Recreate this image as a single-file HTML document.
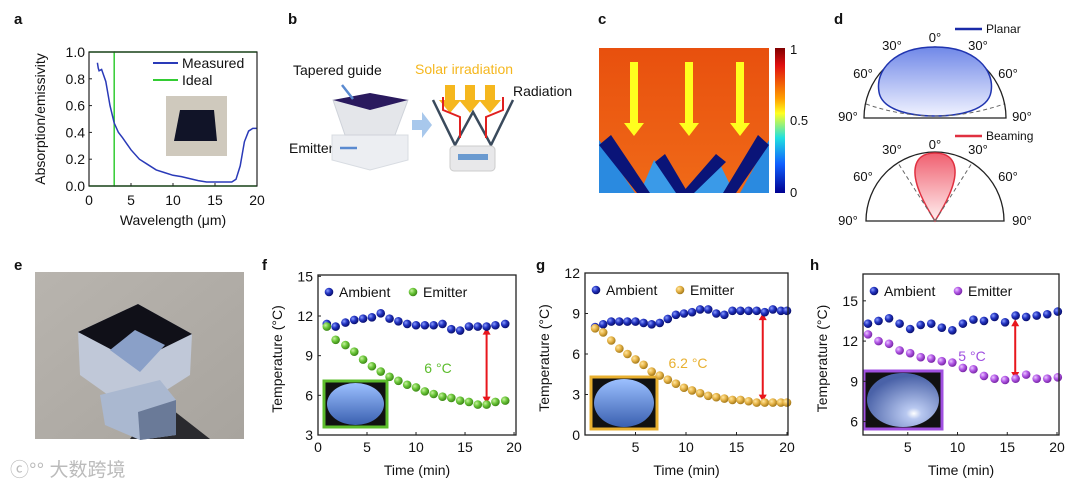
<!DOCTYPE html>
<html><head><meta charset="utf-8"><style>
html,body{margin:0;padding:0;background:#fff;}
svg{display:block;font-family:"Liberation Sans","Noto Sans CJK SC",sans-serif;}
</style></head><body>
<svg id="fig" width="1080" height="487" viewBox="0 0 1080 487" xmlns="http://www.w3.org/2000/svg">
<defs>
<radialGradient id="gb" cx="35%" cy="35%" r="65%"><stop offset="0" stop-color="#8a9cff"/><stop offset="0.5" stop-color="#2233c0"/><stop offset="1" stop-color="#0a1070"/></radialGradient>
<radialGradient id="gg" cx="35%" cy="35%" r="65%"><stop offset="0" stop-color="#c8f0a0"/><stop offset="0.5" stop-color="#6cc83a"/><stop offset="1" stop-color="#3e8a18"/></radialGradient>
<radialGradient id="go" cx="35%" cy="35%" r="65%"><stop offset="0" stop-color="#ffe6a0"/><stop offset="0.5" stop-color="#e8b64a"/><stop offset="1" stop-color="#a87c1c"/></radialGradient>
<radialGradient id="gp" cx="35%" cy="35%" r="65%"><stop offset="0" stop-color="#eac8ff"/><stop offset="0.5" stop-color="#b45ae8"/><stop offset="1" stop-color="#7a28a8"/></radialGradient>
<linearGradient id="heat" x1="0" y1="0" x2="0" y2="1"><stop offset="0" stop-color="#e8500e"/><stop offset="1" stop-color="#f06a18"/></linearGradient>
<linearGradient id="cbar" x1="0" y1="0" x2="0" y2="1"><stop offset="0" stop-color="#800000"/><stop offset="0.12" stop-color="#e01010"/><stop offset="0.35" stop-color="#ffa000"/><stop offset="0.45" stop-color="#ffff20"/><stop offset="0.62" stop-color="#20e0e0"/><stop offset="0.8" stop-color="#1060ff"/><stop offset="1" stop-color="#000090"/></linearGradient>
<linearGradient id="planarF" x1="0" y1="0" x2="0" y2="1"><stop offset="0" stop-color="#7088e8"/><stop offset="1" stop-color="#f0f2ff"/></linearGradient>
<linearGradient id="beamF" x1="0" y1="0" x2="0" y2="1"><stop offset="0" stop-color="#f06070"/><stop offset="1" stop-color="#fff0f0"/></linearGradient>
<linearGradient id="sky1" x1="0" y1="0" x2="0" y2="1"><stop offset="0" stop-color="#9cc0ff"/><stop offset="1" stop-color="#3a60b0"/></linearGradient>
<radialGradient id="sky3" cx="65%" cy="75%" r="70%"><stop offset="0" stop-color="#ffffff"/><stop offset="0.15" stop-color="#b8c8f0"/><stop offset="1" stop-color="#4a62a8"/></radialGradient>
<linearGradient id="asph" x1="0" y1="0" x2="1" y2="1"><stop offset="0" stop-color="#b8b4ae"/><stop offset="1" stop-color="#a8a49e"/></linearGradient>
</defs>

<g font-weight="bold" font-size="15" fill="#111">
<text x="14" y="24">a</text>
<text x="288" y="24">b</text>
<text x="598" y="24">c</text>
<text x="834" y="24">d</text>
<text x="14" y="270">e</text>
<text x="262" y="270">f</text>
<text x="536" y="270">g</text>
<text x="810" y="270">h</text>
</g>

<g id="panelA"></g>

<g>
<text x="293" y="75" font-size="14" fill="#111">Tapered guide</text>
<text x="289" y="153" font-size="14" fill="#111">Emitter</text>
<text x="415" y="74" font-size="14" fill="#f5b71e">Solar irradiation</text>
<text x="513" y="96" font-size="14" fill="#111">Radiation</text>
<polygon points="332,135 408,135 408,160 370,170 332,160" fill="#eceef2" stroke="#d8dce2"/>
<polygon points="333,100 408,100 395,135 345,135" fill="#e4e6ea" stroke="#cfd3da"/>
<polygon points="333,100 370,93 408,100 370,110" fill="#2a1a5e"/>
<line x1="342" y1="85" x2="353" y2="99" stroke="#5a8ad0" stroke-width="2.5"/>
<line x1="340" y1="148" x2="357" y2="148" stroke="#5a8ad0" stroke-width="2.5"/>
<polygon points="412,120 422,120 422,112 432,125 422,138 422,130 412,130" fill="#a8c8ec"/>
<g fill="#f5b71e"><polygon points="445,85 455,85 455,100 461,100 450,113 439,100 445,100"/><polygon points="465,85 475,85 475,100 481,100 470,113 459,100 465,100"/><polygon points="485,85 495,85 495,100 501,100 490,113 479,100 485,100"/></g>
<g stroke="#3a4a5c" stroke-width="2.5" fill="none"><polyline points="433,100 455,145 473,112 491,145 513,100"/></g>
<g stroke="#e02020" stroke-width="2" fill="none"><polyline points="443,97 443,110 460,117 460,138"/><polyline points="503,97 503,110 486,117 486,138"/></g>
<rect x="450" y="146" width="45" height="25" rx="4" fill="#e8e8ea" stroke="#ccc"/>
<rect x="458" y="154" width="30" height="6" fill="#6a9ad0"/>
</g>

<g>
<rect x="599" y="48" width="170" height="145" fill="url(#heat)"/>
<polygon points="599,185 599,140 635,193 599,193" fill="#2a8ae0"/>
<polygon points="640,193 654,160 684,193" fill="#3a9ae8"/>
<polygon points="690,193 718,160 734,193" fill="#3a9ae8"/>
<polygon points="769,140 769,193 740,193" fill="#2a8ae0"/>
<polygon points="599,145 611,135 650,193 637,193" fill="#0a1478"/>
<polygon points="655,162 665,154 688,193 676,193" fill="#0a1478"/>
<polygon points="716,154 726,162 694,193 682,193" fill="#0a1478"/>
<polygon points="758,135 769,145 736,193 723,193" fill="#0a1478"/>
<g fill="#ffff1e"><polygon points="630,62 638,62 638,123 644,123 634,136 624,123 630,123"/><polygon points="685,62 693,62 693,123 699,123 689,136 679,123 685,123"/><polygon points="736,62 744,62 744,123 750,123 740,136 730,123 736,123"/></g>
<rect x="775" y="48" width="10" height="145" fill="url(#cbar)"/>
<g font-size="13" fill="#111"><text x="790" y="54">1</text><text x="790" y="125">0.5</text><text x="790" y="197">0</text></g>
</g>

<g>
<path d="M864,118 A71,71 0 0 1 1006,118 Z" fill="none" stroke="#222" stroke-width="1.3"/>
<path d="M935,47 C975,47 995,70 991,92 C988,110 960,116 935,116 C910,116 882,110 879,92 C875,70 895,47 935,47 Z" fill="url(#planarF)" stroke="#2035b0" stroke-width="1.5"/>
<path d="M866,104 Q935,128 1004,104" fill="none" stroke="#666" stroke-dasharray="4,3"/>
<path d="M866,221 A69,69 0 0 1 1004,221 Z" fill="none" stroke="#222" stroke-width="1.3"/>
<path d="M935,221 C925,205 914,185 915,170 C916,157 925,153 935,153 C945,153 954,157 955,170 C956,185 945,205 935,221 Z" fill="url(#beamF)" stroke="#e03040" stroke-width="1.5"/>
<path d="M935,221 L898,163 M935,221 L972,163" stroke="#666" stroke-dasharray="4,3"/>
<line x1="955" y1="29" x2="982" y2="29" stroke="#1a2aa8" stroke-width="2.5"/>
<line x1="955" y1="136" x2="982" y2="136" stroke="#e03040" stroke-width="2.5"/>
<g font-size="12" fill="#111"><text x="986" y="33">Planar</text><text x="986" y="140">Beaming</text></g>
<g font-size="13" fill="#111" text-anchor="middle">
<text x="935" y="42">0°</text><text x="892" y="50">30°</text><text x="978" y="50">30°</text><text x="863" y="78">60°</text><text x="1008" y="78">60°</text><text x="848" y="121">90°</text><text x="1022" y="121">90°</text>
<text x="935" y="149">0°</text><text x="892" y="154">30°</text><text x="978" y="154">30°</text><text x="863" y="181">60°</text><text x="1008" y="181">60°</text><text x="848" y="225">90°</text><text x="1022" y="225">90°</text>
</g>
</g>

<g>
<rect x="35" y="272" width="209" height="167" fill="url(#asph)"/>
<polygon points="130,439 160,400 210,439" fill="#2a2a2e"/>
<polygon points="78,332 138,304 192,334 190,375 132,412 80,375" fill="#c0c8d8"/>
<polygon points="78,332 138,304 192,334 135,362" fill="#101018"/>
<polygon points="110,350 135,330 165,345 140,372" fill="#8aa0c8"/>
<polygon points="100,395 160,380 176,400 176,435 140,440 105,425" fill="#aab8d0"/>
<polygon points="138,412 176,400 176,435 140,440" fill="#6a7a98"/>
<text x="10" y="476" font-size="19" fill="#bbb">ⓒ°° 大数跨境</text>
</g>

<g id="panelF"></g>
<g id="panelG"></g>
<g id="panelH"></g>
</svg>
<script>
const NS='http://www.w3.org/2000/svg';
const aWavelength=[1,1.1,1.2,1.5,2,2.5,3,3.5,4,5,6,7,8,9,10,11,12,13,14,15,16,17,17.5,18,18.5,19,19.5,20];
const aMeasured=[0.92,0.88,0.86,0.87,0.78,0.6,0.47,0.4,0.36,0.27,0.2,0.16,0.12,0.1,0.08,0.07,0.055,0.04,0.03,0.03,0.03,0.03,0.05,0.15,0.33,0.41,0.43,0.43];
const aXTicks=[0,5,10,15,20];
const aYTicks=[0,0.2,0.4,0.6,0.8,1.0];
const aIdealEdge=3;
const fTime=[0.9,1.8,2.8,3.7,4.6,5.5,6.4,7.3,8.2,9.1,10,10.9,11.8,12.7,13.6,14.5,15.4,16.3,17.2,18.1,19.1];
const fAmbient=[11.4,11.2,11.5,11.7,11.8,11.9,12.2,11.8,11.6,11.4,11.3,11.3,11.3,11.4,11.0,10.9,11.2,11.2,11.2,11.3,11.4];
const fEmitter=[11.2,10.2,9.8,9.3,8.7,8.2,7.8,7.4,7.1,6.8,6.6,6.3,6.1,5.9,5.8,5.6,5.5,5.3,5.3,5.5,5.6];
const fYTicks=[3,6,9,12,15];
const fXTicks=[0,5,10,15,20];
const gTime=[1,1.8,2.6,3.4,4.2,5,5.8,6.6,7.4,8.2,9,9.8,10.6,11.4,12.2,13,13.8,14.6,15.4,16.2,17,17.8,18.6,19.4,20];
const gAmbient=[8.0,8.2,8.4,8.4,8.4,8.4,8.3,8.2,8.3,8.6,8.9,9.0,9.1,9.3,9.3,9.0,8.9,9.2,9.2,9.2,9.2,9.1,9.3,9.2,9.2];
const gEmitter=[7.9,7.6,7.0,6.4,6.0,5.6,5.2,4.7,4.4,4.1,3.8,3.5,3.3,3.1,2.9,2.8,2.7,2.6,2.6,2.5,2.4,2.4,2.4,2.4,2.4];
const gYTicks=[0,3,6,9,12];
const gXTicks=[5,10,15,20];
const hTime=[1,2.06,3.12,4.18,5.24,6.3,7.36,8.42,9.48,10.54,11.6,12.66,13.72,14.78,15.84,16.9,17.96,19.02,20.08];
const hAmbient=[13.3,13.5,13.7,13.3,12.9,13.2,13.3,13.0,12.8,13.3,13.6,13.5,13.8,13.4,13.9,13.8,13.9,14.0,14.2];
const hEmitter=[12.5,12.0,11.8,11.3,11.1,10.8,10.7,10.5,10.4,10.0,9.9,9.4,9.2,9.1,9.2,9.5,9.2,9.2,9.3];
const hYTicks=[6,9,12,15];
const hXTicks=[5,10,15,20];

function el(parent,tag,attrs,text){const e=document.createElementNS(NS,tag);for(const k in attrs)e.setAttribute(k,attrs[k]);if(text!==undefined)e.textContent=text;parent.appendChild(e);return e;}
function scale(d0,d1,r0,r1){return v=>r0+(v-d0)/(d1-d0)*(r1-r0);}

(function(){
 const g=document.getElementById('panelA');
 const L=89,R=257,T=52,B=186;
 const x=scale(0,20,L,R),y=scale(0,1,B,T);
 const ideal=el(g,'polyline',{points:`${L},${y(0)} ${x(aIdealEdge)},${y(0)} ${x(aIdealEdge)},${y(1)} ${L},${y(1)}`,fill:'none',stroke:'#33cc33','stroke-width':1.5});
 
 
 el(g,'line',{x1:x(aIdealEdge),y1:y(0),x2:R,y2:y(0),stroke:'#33cc33','stroke-width':1.5});
 el(g,'line',{x1:x(aIdealEdge),y1:y(1),x2:R,y2:y(1),stroke:'#33cc33','stroke-width':1.5});
 const m=el(g,'polyline',{points:aWavelength.map((w,i)=>x(w)+','+y(aMeasured[i])).join(' '),fill:'none',stroke:'#2a3ab8','stroke-width':1.5});
 
 
 el(g,'rect',{x:L,y:T,width:R-L,height:B-T,fill:'none',stroke:'#222','stroke-width':1.2});
 aXTicks.forEach(t=>{el(g,'line',{x1:x(t),y1:B,x2:x(t),y2:B-3,stroke:'#222'});el(g,'text',{x:x(t),y:B+19,'font-size':14,'text-anchor':'middle',fill:'#111'},String(t));});
 aYTicks.forEach(t=>{el(g,'line',{x1:L,y1:y(t),x2:L+3,y2:y(t),stroke:'#222'});el(g,'text',{x:L-4,y:y(t)+5,'font-size':14,'text-anchor':'end',fill:'#111'},t.toFixed(1));});
 el(g,'text',{x:173,y:225,'font-size':14,'text-anchor':'middle',fill:'#111'},'Wavelength (μm)');
 el(g,'text',{x:0,y:0,'font-size':14,'text-anchor':'middle',fill:'#111',transform:`translate(45,${(T+B)/2}) rotate(-90)`},'Absorption/emissivity');
 el(g,'line',{x1:153,y1:63,x2:178,y2:63,stroke:'#2a3ab8','stroke-width':2});
 el(g,'text',{x:182,y:68,'font-size':14,fill:'#111'},'Measured');
 el(g,'line',{x1:153,y1:80,x2:178,y2:80,stroke:'#33cc33','stroke-width':2});
 el(g,'text',{x:182,y:85,'font-size':14,fill:'#111'},'Ideal');
 el(g,'rect',{x:166,y:96,width:61,height:60,fill:'#cfc9bd'});
 el(g,'polygon',{points:'180,110 214,110 217,141 174,141',fill:'#111428'});
})();

function tempChart(id,o){
 const g=document.getElementById(id);
 const x=scale(o.x0,o.x1,o.L,o.R),y=scale(o.y0,o.y1,o.B,o.T);
 el(g,'rect',{x:o.inset[0],y:o.inset[1],width:o.inset[2],height:o.inset[3],fill:'#111',stroke:o.col,'stroke-width':3});
 el(g,'ellipse',{cx:o.inset[0]+o.inset[2]/2,cy:o.inset[1]+o.inset[3]/2,rx:o.inset[2]/2-3,ry:o.inset[3]/2-2,fill:o.sky});
 const ax=x(o.arrow[0]),a1=y(o.arrow[1]),a2=y(o.arrow[2]);
 el(g,'line',{x1:ax,y1:a1+6,x2:ax,y2:a2-6,stroke:'#e8161c','stroke-width':2});
 el(g,'polygon',{points:`${ax-4},${a1+8} ${ax+4},${a1+8} ${ax},${a1+1}`,fill:'#e8161c'});
 el(g,'polygon',{points:`${ax-4},${a2-8} ${ax+4},${a2-8} ${ax},${a2-1}`,fill:'#e8161c'});
 el(g,'text',{x:o.label[0],y:o.label[1],'font-size':14,fill:o.col,'text-anchor':'middle'},o.label[2]);
 o.t.forEach((t,i)=>{
  const d=el(g,'circle',{cx:x(t),cy:y(o.amb[i]),r:4.3,fill:'url(#gb)'});
  
  
 });
 o.t.forEach((t,i)=>{
  const d=el(g,'circle',{cx:x(t),cy:y(o.emi[i]),r:4.3,fill:o.grad});
  
  
 });
 el(g,'rect',{x:o.L,y:o.T,width:o.R-o.L,height:o.B-o.T,fill:'none',stroke:'#222','stroke-width':1.3});
 o.xt.forEach(t=>{el(g,'line',{x1:x(t),y1:o.B,x2:x(t),y2:o.B-3,stroke:'#222'});el(g,'text',{x:x(t),y:o.B+17,'font-size':14,'text-anchor':'middle',fill:'#111'},String(t));});
 o.yt.forEach(t=>{el(g,'line',{x1:o.L,y1:y(t),x2:o.L+3,y2:y(t),stroke:'#222'});el(g,'text',{x:o.L-5,y:y(t)+5,'font-size':14,'text-anchor':'end',fill:'#111'},String(t));});
 el(g,'text',{x:(o.L+o.R)/2,y:o.B+40,'font-size':14,'text-anchor':'middle',fill:'#111'},'Time (min)');
 el(g,'text',{x:0,y:0,'font-size':14,'text-anchor':'middle',fill:'#111',transform:`translate(${o.L-36},${(o.T+o.B)/2+4}) rotate(-90)`},'Temperature (°C)');
 el(g,'circle',{cx:o.L+11,cy:o.T+17,r:4.3,fill:'url(#gb)'});
 el(g,'text',{x:o.L+21,y:o.T+22,'font-size':14,fill:'#111'},'Ambient');
 el(g,'circle',{cx:o.L+95,cy:o.T+17,r:4.3,fill:o.grad});
 el(g,'text',{x:o.L+105,y:o.T+22,'font-size':14,fill:'#111'},'Emitter');
}
tempChart('panelF',{L:318,R:516,T:275,B:435,x0:0,x1:20.2,y0:3,y1:15.1,t:fTime,amb:fAmbient,emi:fEmitter,xt:fXTicks,yt:fYTicks,col:'#5cbc2c',grad:'url(#gg)',inset:[324,381,63,46],sky:'url(#sky1)',arrow:[17.2,11.2,5.3],label:[438,373,'6 °C']});
tempChart('panelG',{L:585,R:788,T:273,B:435,x0:0,x1:20.1,y0:0,y1:12,t:gTime,amb:gAmbient,emi:gEmitter,xt:gXTicks,yt:gYTicks,col:'#e8b030',grad:'url(#go)',inset:[591,377,66,52],sky:'url(#sky1)',arrow:[17.6,9.1,2.4],label:[688,368,'6.2 °C']});
tempChart('panelH',{L:863,R:1059,T:274,B:435,x0:0.5,x1:20.2,y0:5,y1:17,t:hTime,amb:hAmbient,emi:hEmitter,xt:hXTicks,yt:hYTicks,col:'#a050e0',grad:'url(#gp)',inset:[864,371,78,58],sky:'url(#sky3)',arrow:[15.8,13.7,9.1],label:[972,361,'5 °C']});
</script>
</body></html>
